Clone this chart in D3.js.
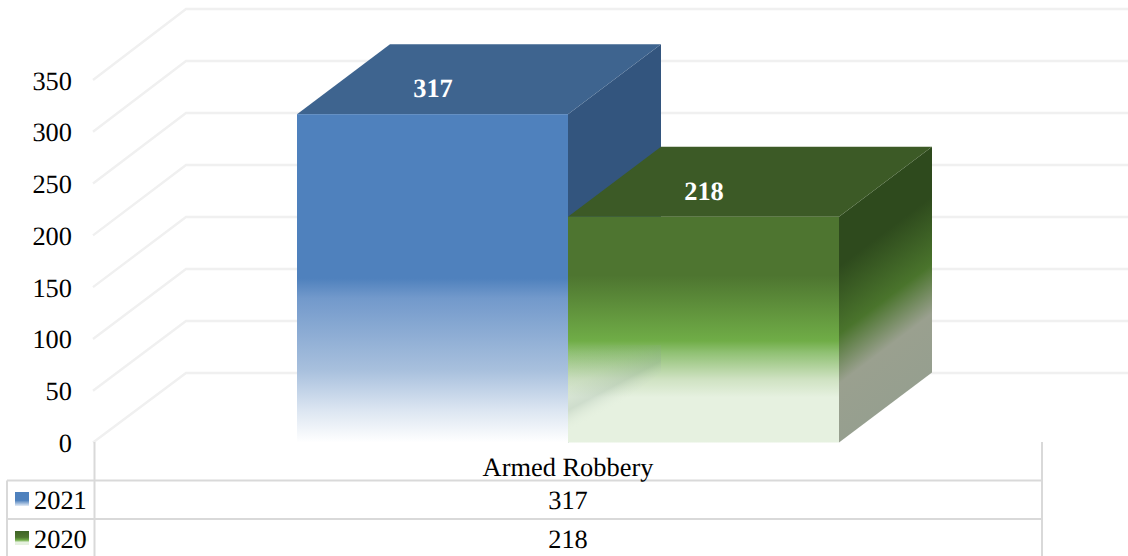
<!DOCTYPE html>
<html><head><meta charset="utf-8">
<script src="https://cdn.jsdelivr.net/npm/d3@7/dist/d3.min.js"></script>
<style>html,body{margin:0;padding:0;background:#fff}svg{display:block}text{font-family:"Liberation Serif",serif;fill:#000;text-rendering:geometricPrecision}</style>
</head><body><svg id="c" width="1128" height="556"></svg>
<script>
const categories = ["Armed Robbery"];
const seriesNames = ["2021", "2020"];
const seriesValues = [317, 218];
const yTicks = [0, 50, 100, 150, 200, 250, 300, 350];

const W = 1128, H = 556;
const DX = 93, DY = -70;
const svg = d3.select("#c");
const defs = svg.append("defs");
const y = d3.scaleLinear().domain([0, 350]).range([442.5, 80]);
const yBack = d3.scaleLinear().domain([0, 350]).range([373, 9]);
const x = d3.scaleBand().domain(seriesNames).range([297, 839]);
const FS = 26.4;

function grad(id, stops, attrs) {
  const g = defs.append("linearGradient").attr("id", id);
  Object.entries(attrs).forEach(([k, v]) => g.attr(k, v));
  stops.forEach(s => g.append("stop").attr("offset", s[0]).attr("stop-color", s[1]).attr("stop-opacity", s[2] === undefined ? 1 : s[2]));
}
const vert = {x1: 0, y1: 0, x2: 0, y2: 1};
const blueFront = [[0, "#4f81bd"], [.5, "#4f81bd"], [.56, "#7299cb"], [.78, "#a8c0dd"], [.9, "#dbe5f1"], [1, "#ffffff"]];
const greenFront = [[0, "#4e7530"], [.26, "#4e7530"], [.55, "#70ad47"], [.6, "#8fc072"], [.72, "#cfe2c2"], [.8, "#e6f1e0"], [1, "#e6f1e0"]];
grad("gBlue", blueFront, vert);
grad("gGreen", greenFront, vert);
grad("lBlue", [[0, "#4f81bd"], [.6, "#4f81bd"], [1, "#e4ecf6"]], vert);
grad("lGreen", [[0, "#3f6426"], [.45, "#4e7530"], [.65, "#70ad47"], [.8, "#e6f1e0"], [1, "#e6f1e0"]], vert);

const x0g = x("2020"), x1g = x0g + x.bandwidth();
grad("gSide", [[0, "#2e4a1d"], [.22, "#2e4a1d"], [.52, "#4a742c"], [.74, "#9aa08f"], [1, "#969f8f"]], {
  gradientUnits: "userSpaceOnUse", x1: 0, x2: 0, y1: y(218), y2: y(0),
  gradientTransform: `translate(${x1g},0) skewY(-37) translate(${-x1g},0)`
});
grad("gShade", [[0, "#7f9a88", 0], [.5, "#8aa394", .1], [.75, "#8aa394", .26], [1, "#e6f1e0", 0]], {
  gradientUnits: "userSpaceOnUse", x1: 0, x2: 0, y1: 345, y2: 432,
  gradientTransform: `translate(${x0g},0) skewY(-28) translate(${-x0g},0)`
});

// gridlines
const grid = svg.append("g").attr("fill", "none").attr("stroke", "#f0f0f0").attr("stroke-width", 2.4);
yTicks.forEach(t => {
  grid.append("path").attr("d", d3.line()([[93, y(t)], [186, yBack(t)], [W, yBack(t)]]));
});

// y labels
svg.append("g").selectAll("text").data(yTicks).join("text")
  .attr("x", 72).attr("y", d => y(d) + 9.5).attr("text-anchor", "end").attr("font-size", FS).text(d => d);

const poly = p => d3.line()(p) + "Z";
function bar(name, val, front, top, side) {
  const a = x(name), b = a + x.bandwidth(), t = y(val), z = y(0);
  svg.append("path").attr("d", poly([[b, t], [b + DX, t + DY], [b + DX, z + DY], [b, z]])).attr("fill", side);
  svg.append("path").attr("d", poly([[a, t], [b, t], [b + DX, t + DY], [a + DX, t + DY]])).attr("fill", top);
  svg.append("rect").attr("x", a).attr("y", t).attr("width", b - a).attr("height", z - t).attr("fill", front);
}
bar("2021", seriesValues[0], "url(#gBlue)", "#3e648f", "#33557e");
bar("2020", seriesValues[1], "url(#gGreen)", "#3c5a26", "url(#gSide)");
// translucent back-side of the first bar seen through the second one
svg.append("path").attr("d", poly([[x0g, 345], [x0g + DX, 345], [x0g + DX, y(0) + DY], [x0g, y(0)]])).attr("fill", "url(#gShade)");

// data labels
seriesNames.forEach((n, i) => {
  svg.append("text").attr("x", x(n) + x.bandwidth() / 2 + 0.5).attr("y", y(seriesValues[i]) - 17)
    .attr("text-anchor", "middle").attr("font-size", FS).attr("font-weight", "bold").style("fill", "#fff").text(seriesValues[i]);
});

// data table
const tL = 7, tA = 94.5, tR = 1042, rows = [480.5, 519];
const tg = svg.append("g").attr("stroke", "#d9d9d9").attr("stroke-width", 2).attr("fill", "none");
tg.append("line").attr("x1", tA).attr("x2", tA).attr("y1", 442).attr("y2", H);
tg.append("line").attr("x1", tR).attr("x2", tR).attr("y1", 442).attr("y2", H);
tg.append("line").attr("x1", tL).attr("x2", tL).attr("y1", rows[0]).attr("y2", H);
rows.forEach(r => tg.append("line").attr("x1", tL).attr("x2", tR).attr("y1", r).attr("y2", r));

svg.append("text").attr("x", 568).attr("y", 476).attr("text-anchor", "middle").attr("font-size", FS).text(categories[0]);
seriesNames.forEach((n, i) => {
  const base = [509, 548][i];
  svg.append("rect").attr("x", 15).attr("y", base - 17).attr("width", 14).attr("height", 14).attr("fill", i ? "url(#lGreen)" : "url(#lBlue)");
  svg.append("text").attr("x", 34).attr("y", base).attr("font-size", FS).text(n);
  svg.append("text").attr("x", 568).attr("y", base).attr("text-anchor", "middle").attr("font-size", FS).text(seriesValues[i]);
});
</script></body></html>
